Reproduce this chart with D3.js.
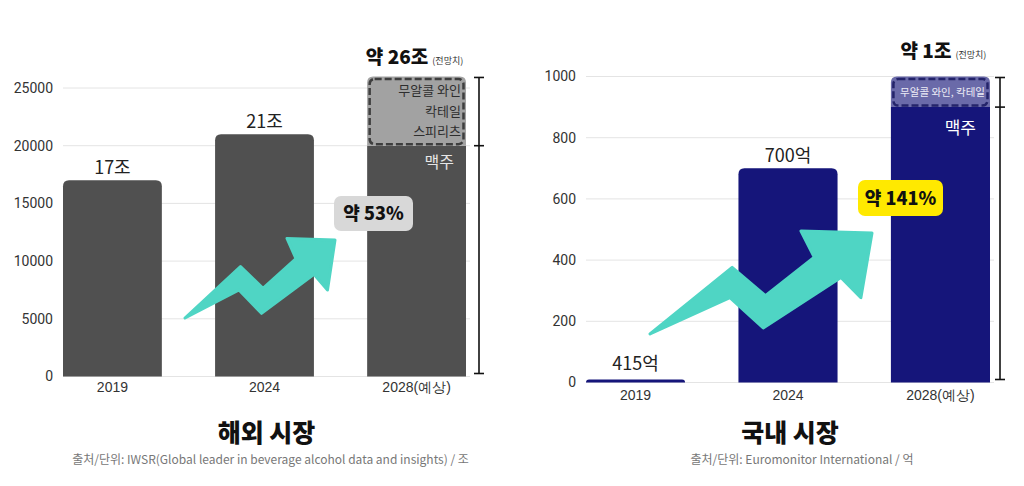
<!DOCTYPE html>
<html>
<head>
<meta charset="utf-8">
<script src="https://cdn.jsdelivr.net/npm/d3@7"></script>
<style>
  body { margin: 0; background: #fff; }
  svg { font-family: "Noto Sans CJK KR", "Noto Sans", sans-serif; }
</style>
</head>
<body>
<svg id="chart" width="1024" height="486"></svg>
<script>
// categories
const years = ["2019", "2024", "2028(예상)"];

// 해외 시장 (조, axis in 억 scale 0-25000)
const globalValues = [17000, 21000, 26000];
const globalBeer = 20000;
const globalLabels = ["17조", "21조", null];
const globalTicks = [0, 5000, 10000, 15000, 20000, 25000];
const globalTopItems = ["무알콜 와인", "칵테일", "스피리츠"];

// 국내 시장 (억)
const domesticValues = [10, 700, 1000];
const domesticBeer = 900;
const domesticLabels = ["415억", "700억", null];
const domesticTicks = [0, 200, 400, 600, 800, 1000];
const domesticTopItems = ["무알콜 와인, 칵테일"];

// arrow shape, local units
const arrowShape = [[0, 0], [0.37, -0.33], [0.52, -0.19], [0.74, -0.38], [0.68, -0.51],
                    [1, -0.5], [0.95, -0.18], [0.86, -0.28], [0.51, -0.03], [0.36, -0.18]];

const svg = d3.select("#chart");

function topRounded(x, y, w, h, r) {
    r = Math.min(r, h, w / 2);
    return "M" + x + "," + (y + h) +
        "V" + (y + r) +
        "Q" + x + "," + y + " " + (x + r) + "," + y +
        "H" + (x + w - r) +
        "Q" + (x + w) + "," + y + " " + (x + w) + "," + (y + r) +
        "V" + (y + h) + "Z";
}

function drawChart(cfg) {
    const g = svg.append("g");
    const x = d3.scaleBand().domain(years).range(cfg.xRange).paddingInner(0.35).paddingOuter(0);
    const y = d3.scaleLinear().domain([0, cfg.ticks[cfg.ticks.length - 1]]).range(cfg.yRange);

    // grid
    g.selectAll("line.grid").data(cfg.ticks).enter().append("line")
        .attr("x1", cfg.xRange[0]).attr("x2", cfg.xRange[1] + 4)
        .attr("y1", d => y(d)).attr("y2", d => y(d))
        .attr("stroke", "#e4e4e4").attr("stroke-width", 1);

    // y axis labels
    const yAxis = g.append("g")
        .attr("transform", "translate(" + (cfg.xRange[0] - 4) + ",0)")
        .call(d3.axisLeft(y).tickValues(cfg.ticks).tickSize(0).tickPadding(6).tickFormat(d3.format("d")));
    yAxis.select(".domain").remove();
    yAxis.selectAll("text").attr("font-size", 14).attr("fill", "#333")
        .attr("font-family", "Roboto, sans-serif");

    // x axis labels
    const xAxis = g.append("g")
        .attr("transform", "translate(0," + (y(0) + cfg.xLabelOffset) + ")")
        .call(d3.axisBottom(x).tickSize(0).tickPadding(0));
    xAxis.select(".domain").remove();
    xAxis.selectAll("text").attr("font-size", 14).attr("fill", "#333");

    const data = years.map((yr, i) => ({year: yr, value: cfg.values[i], label: cfg.labels[i]}));

    // bars (beer portion for last)
    g.selectAll("path.bar").data(data).enter().append("path")
        .attr("d", (d, i) => {
            const v = i === data.length - 1 ? cfg.beer : d.value;
            const top = y(v);
            return topRounded(x(d.year), top, x.bandwidth(), y(0) - top, i === data.length - 1 ? 0 : 6);
        })
        .attr("fill", cfg.color);

    // projected segment
    const last = data[data.length - 1];
    const sx = x(last.year), sw = x.bandwidth();
    const sTop = y(last.value), sBot = y(cfg.beer);
    g.append("path")
        .attr("d", topRounded(sx, sTop, sw, sBot - sTop, 6))
        .attr("fill", cfg.topColor);
    g.append("rect")
        .attr("x", sx + 2.5).attr("y", sTop + 2.5)
        .attr("width", sw - 5).attr("height", sBot - sTop - 4)
        .attr("rx", 5)
        .attr("fill", "none")
        .attr("stroke", cfg.dashColor).attr("stroke-width", 2.5)
        .attr("stroke-dasharray", "7,3");
    g.selectAll("text.top").data(cfg.topItems).enter().append("text")
        .attr("x", sx + sw - 5)
        .attr("y", (d, i) => sTop + cfg.topTextStart + i * cfg.topTextGap)
        .attr("text-anchor", "end")
        .attr("font-size", cfg.topFont)
        .attr("fill", cfg.topTextColor)
        .text(d => d);
    g.append("text")
        .attr("x", sx + sw - cfg.beerInset)
        .attr("y", sBot + cfg.beerDy)
        .attr("text-anchor", "end")
        .attr("font-size", cfg.beerFont)
        .attr("fill", cfg.beerTextColor)
        .text("맥주");

    // value labels
    g.selectAll("text.val").data(data.filter(d => d.label)).enter().append("text")
        .attr("x", d => x(d.year) + x.bandwidth() / 2)
        .attr("y", d => y(d.value) - (d.value < cfg.ticks[1] / 4 ? 9 : 6))
        .attr("text-anchor", "middle")
        .attr("font-size", 18)
        .attr("fill", "#222")
        .text(d => d.label);

    // total label
    const tot = g.append("text")
        .attr("x", sx + sw / 2 + cfg.totalDx)
        .attr("y", sTop - cfg.totalDy)
        .attr("text-anchor", "middle");
    tot.append("tspan").attr("font-size", 19).attr("font-weight", 900).attr("fill", "#111").text(cfg.totalText);
    tot.append("tspan").attr("font-size", 9).attr("fill", "#333").attr("dx", 4).text("(전망치)");

    // bracket
    const bx = cfg.xRange[1] + cfg.bracketDx;
    const bt = y(last.value) + 1, bb = y(0) - 3, bm = y(cfg.beer);
    g.append("line").attr("x1", bx).attr("x2", bx).attr("y1", bt).attr("y2", bb)
        .attr("stroke", "#111").attr("stroke-width", 1.6);
    [bt, bm, bb].forEach(v => {
        g.append("line").attr("x1", bx - 5).attr("x2", bx + 5).attr("y1", v).attr("y2", v)
            .attr("stroke", "#111").attr("stroke-width", 1.6);
    });

    // arrow
    const ax = d3.scaleLinear().domain([0, 1]).range(cfg.arrowX);
    const ay = d3.scaleLinear().domain([0, -1]).range(cfg.arrowY);
    g.append("path")
        .attr("d", d3.line().x(p => ax(p[0])).y(p => ay(p[1])).curve(d3.curveLinearClosed)(arrowShape))
        .attr("fill", "#4fd5c4")
        .attr("stroke", "#4fd5c4").attr("stroke-width", 3).attr("stroke-linejoin", "round");

    // badge
    const bdg = g.append("g").attr("transform", "translate(" + cfg.badge[0] + "," + cfg.badge[1] + ")");
    bdg.append("rect").attr("width", cfg.badge[2]).attr("height", cfg.badge[3]).attr("rx", 7)
        .attr("fill", cfg.badgeColor);
    bdg.append("text").attr("x", cfg.badge[2] / 2).attr("y", cfg.badge[3] / 2 + 6.5)
        .attr("text-anchor", "middle").attr("font-size", 18).attr("font-weight", 900)
        .attr("fill", "#111").text(cfg.badgeText);

    // title and source
    const cx = (cfg.xRange[0] + cfg.xRange[1]) / 2 + cfg.titleDx;
    g.append("text").attr("x", cx).attr("y", 442).attr("text-anchor", "middle")
        .attr("font-size", 25).attr("font-weight", 900).attr("fill", "#111").text(cfg.title);
    g.append("text").attr("x", cx + cfg.sourceDx).attr("y", 464).attr("text-anchor", "middle")
        .attr("font-size", 12).attr("fill", "#777").text(cfg.source);
}

drawChart({
    values: globalValues, beer: globalBeer, labels: globalLabels, ticks: globalTicks, topItems: globalTopItems,
    xRange: [63, 466], yRange: [376.5, 88], xLabelOffset: 6,
    color: "#505050", topColor: "#a2a2a2", dashColor: "#3e3e3e", topTextColor: "#2e2e2e",
    topFont: 13, topTextStart: 19, topTextGap: 20.5,
    beerInset: 12, beerDy: 22, beerFont: 16, beerTextColor: "#e6e6e6",
    totalText: "약 26조", totalDx: -2, totalDy: 12,
    bracketDx: 13,
    arrowX: [185, 335], arrowY: [318, 162],
    badge: [334, 196, 79, 35], badgeColor: "#d8d8d8", badgeText: "약 53%",
    title: "해외 시장", titleDx: 2,
    source: "출처/단위: IWSR(Global leader in beverage alcohol data and insights) / 조", sourceDx: 4
});

drawChart({
    values: domesticValues, beer: domesticBeer, labels: domesticLabels, ticks: domesticTicks, topItems: domesticTopItems,
    xRange: [586, 990], yRange: [382.5, 76.5], xLabelOffset: 8,
    color: "#15157a", topColor: "#6a6aa9", dashColor: "#24246a", topTextColor: "#ececf6",
    topFont: 10.5, topTextStart: 19, topTextGap: 20,
    beerInset: 14, beerDy: 27, beerFont: 17, beerTextColor: "#ffffff",
    totalText: "약 1조", totalDx: 3, totalDy: 19,
    bracketDx: 10,
    arrowX: [650, 872], arrowY: [334, 132],
    badge: [858, 180, 85, 36], badgeColor: "#ffe900", badgeText: "약 141%",
    title: "국내 시장", titleDx: 2,
    source: "출처/단위: Euromonitor International  / 억", sourceDx: 12
});
</script>
</body>
</html>
